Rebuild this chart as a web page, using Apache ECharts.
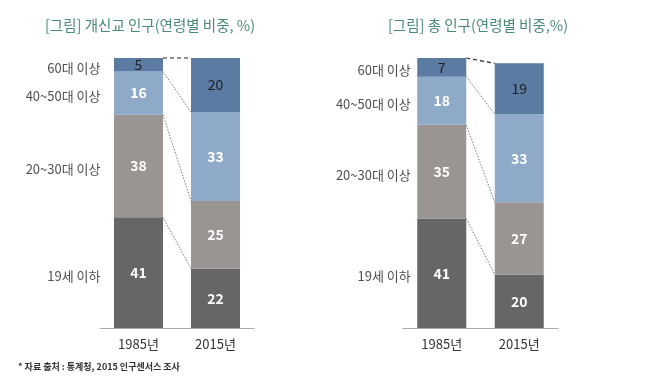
<!DOCTYPE html>
<html><head><meta charset="utf-8">
<script src="https://cdn.jsdelivr.net/npm/echarts@6/dist/echarts.min.js"></script>
<style>html,body{margin:0;padding:0;background:#fff}#c{width:650px;height:382px}</style>
</head><body><div id="c"></div>
<script>
const categories = ['1985년', '2015년'];
const ageGroups = ['19세 이하', '20~30대 이상', '40~50대 이상', '60대 이상'];
const protestant1985 = [41, 38, 16, 5];
const protestant2015 = [22, 25, 33, 20];
const total1985 = [41, 35, 18, 7];
const total2015 = [20, 27, 33, 19];
const titleLeft = '[그림] 개신교 인구(연령별 비중, %)';
const titleRight = '[그림] 총 인구(연령별 비중,%)';
const sourceNote = '* 자료 출처 : 통계청, 2015 인구센서스 조사';

const colors = ['#656665', '#9a9592', '#8eaac8', '#5b7ba3'];
const FONT = '"Noto Sans CJK KR", "Noto Sans", sans-serif';
const BAR_W = 49;

function cum(arr) { const out = []; let s = 0; arr.forEach(v => { s += v; out.push(s); }); return out; }

function buildSeries(idx, a1985, a2015, labelDist) {
  const stack = 'S' + idx;
  const series = [];
  ageGroups.forEach((g, i) => {
    const top = i === ageGroups.length - 1;
    series.push({
      type: 'bar', name: g, stack: stack, xAxisIndex: idx, yAxisIndex: idx,
      barWidth: BAR_W,
      itemStyle: { color: colors[i] },
      label: {
        show: true, position: 'inside', fontFamily: FONT,
        fontSize: 14, fontWeight: top ? 'normal' : 'bold',
        color: top ? '#222' : '#fff'
      },
      data: [a1985[i], a2015[i]]
    });
  });
  const c1 = cum(a1985), c2 = cum(a2015);
  series.push({
    type: 'custom', xAxisIndex: idx, yAxisIndex: idx, clip: false, silent: true,
    encode: { x: 0, y: [1, 2] },
    data: c1.map((v, k) => [0, v, c2[k], k]),
    renderItem: function (params, api) {
      const k = api.value(3);
      const p1 = api.coord([0, api.value(1)]);
      const p2 = api.coord([1, api.value(2)]);
      const isTop = k === ageGroups.length - 1;
      return {
        type: 'line',
        shape: { x1: p1[0] + BAR_W / 2, y1: p1[1], x2: p2[0] - BAR_W / 2, y2: p2[1] },
        style: isTop ? { stroke: '#222', lineWidth: 1.2, lineDash: [4, 3] }
                     : { stroke: '#555', lineWidth: 0.8, lineDash: [1.5, 1.5] }
      };
    }
  });
  series.push({
    type: 'scatter', xAxisIndex: idx, yAxisIndex: idx, symbolSize: 0, silent: true,
    data: a1985.map((v, i) => ({ value: [0, c1[i] - v / 2], name: ageGroups[i] })),
    label: {
      show: true, position: 'left', distance: labelDist, offset: [0, 3],
      formatter: p => p.name, fontFamily: FONT, fontSize: 13, color: '#222'
    }
  });
  return series;
}

const chart = echarts.init(document.getElementById('c'));
const axisCommon = {
  type: 'category', data: categories,
  axisLine: { lineStyle: { color: '#aaa', width: 1 } },
  axisTick: { show: false },
  axisLabel: { fontFamily: FONT, fontSize: 13, color: '#333', margin: 10 }
};
const yCommon = { type: 'value', min: 0, show: false, splitLine: { show: false } };
chart.setOption({
  animation: false,
  title: [
    { text: titleLeft, left: 145, top: 13, textAlign: 'center',
      textStyle: { fontFamily: FONT, fontSize: 14.5, fontWeight: 'normal', color: '#4a8a78' } },
    { text: titleRight, left: 473, top: 13, textAlign: 'center',
      textStyle: { fontFamily: FONT, fontSize: 14.5, fontWeight: 'normal', color: '#4a8a78' } }
  ],
  grid: [
    { left: 100, width: 154, top: 58, height: 270 },
    { left: 403, width: 155, top: 58, height: 270 }
  ],
  xAxis: [Object.assign({ gridIndex: 0 }, axisCommon), Object.assign({ gridIndex: 1 }, axisCommon)],
  yAxis: [Object.assign({ gridIndex: 0, max: 100 }, yCommon), Object.assign({ gridIndex: 1, max: 101 }, yCommon)],
  graphic: [{
    type: 'text', left: 18, top: 362,
    style: { text: sourceNote, font: 'bold 9px ' + FONT, fill: '#333' }
  }],
  series: buildSeries(0, protestant1985, protestant2015, 38).concat(buildSeries(1, total1985, total2015, 31))
});
</script></body></html>
